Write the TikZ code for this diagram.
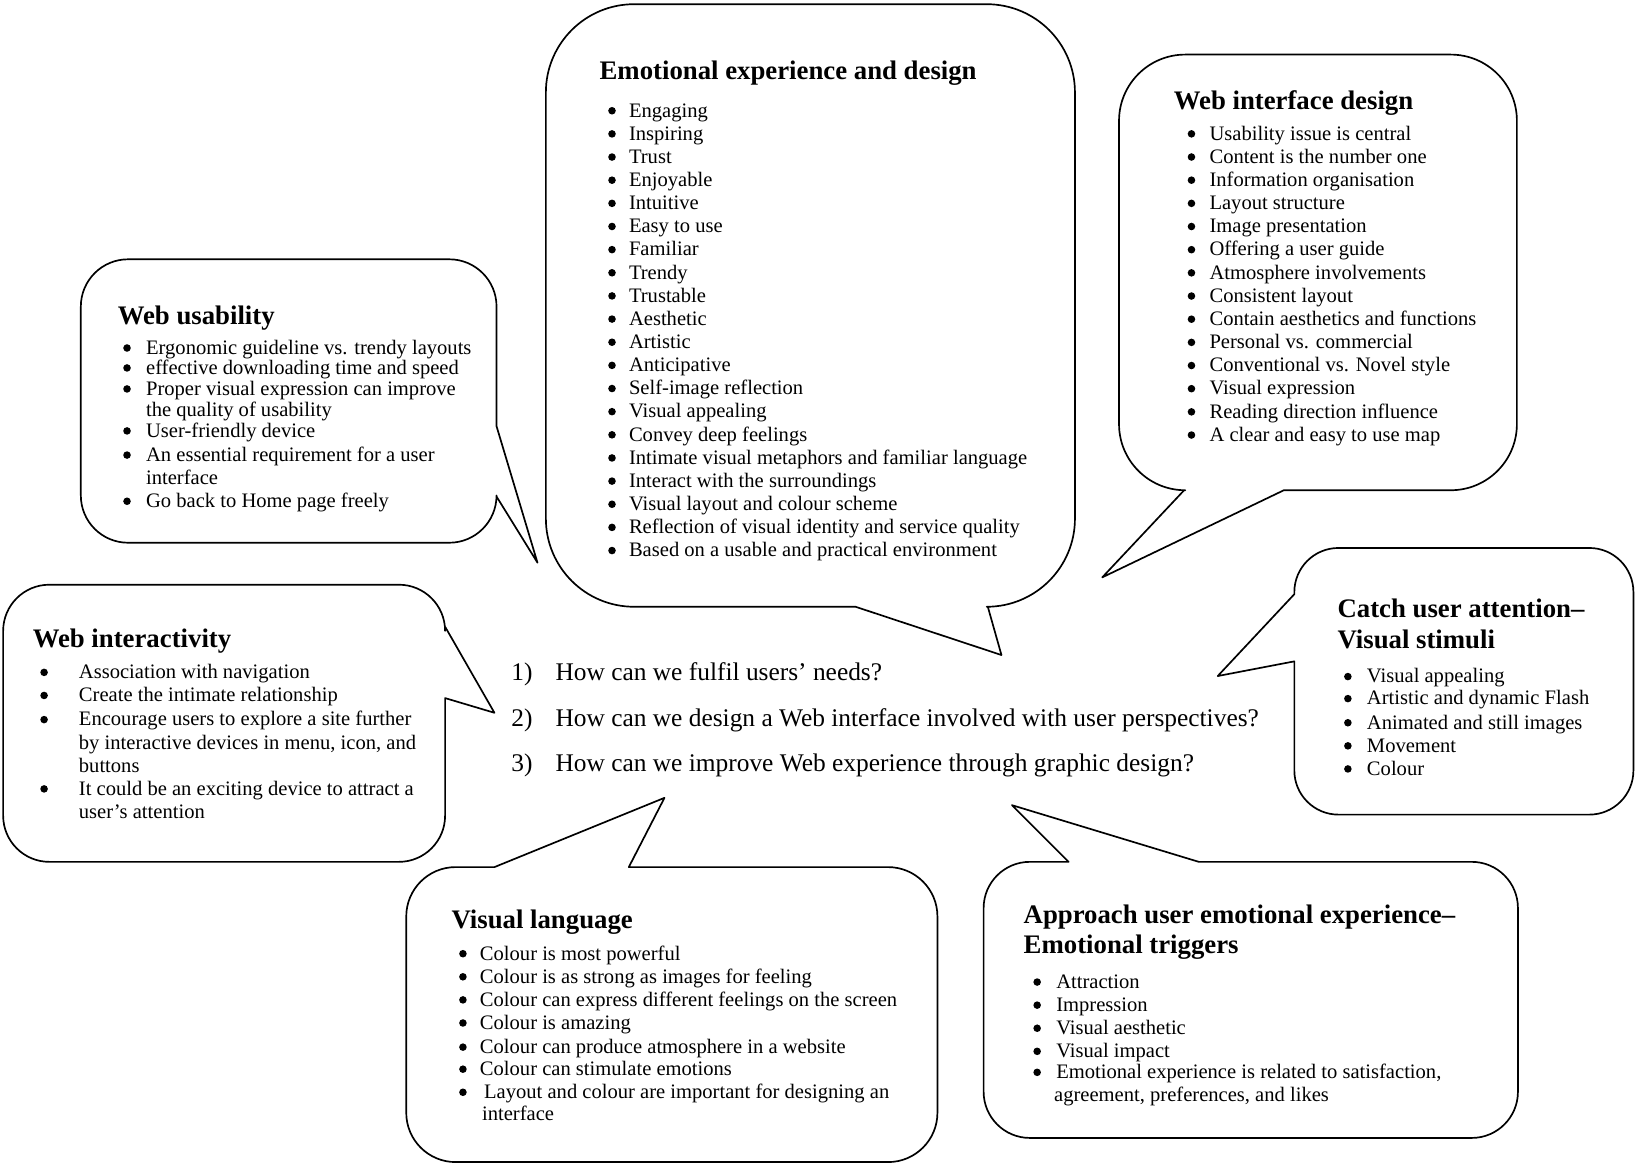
\documentclass[tikz,border=0pt]{standalone}
\usepackage{fontspec}
\setmainfont{Liberation Serif}
\usetikzlibrary{calc}

% Rounded callout: #1 left, #2 top, #3 right, #4 bottom, #5 corner radius,
% #6..#9 wedge segments on the top, right, bottom and left edge (clockwise).
\newcommand\callout[9]{%
  \draw[bubble] ({#1+#5},#2) #6 -- ({#3-#5},#2)
    .. controls ({#3-0.448*#5},#2) and (#3,{#2+0.448*#5}) .. (#3,{#2+#5}) #7 -- (#3,{#4-#5})
    .. controls (#3,{#4-0.448*#5}) and ({#3-0.448*#5},#4) .. ({#3-#5},#4) #8 -- ({#1+#5},#4)
    .. controls ({#1+0.448*#5},#4) and (#1,{#4-0.448*#5}) .. (#1,{#4-#5}) #9 -- (#1,{#2+#5})
    .. controls (#1,{#2+0.448*#5}) and ({#1+0.448*#5},#2) .. ({#1+#5},#2) -- cycle;}

% bulleted line: name, bullet x, text x, baseline y, text
\newcommand\blineitem[5]{%
  \node[dot] (#1-dot) at (#2,#4-6) {};
  \node[itm] (#1) at (#3,#4) {#5};}
% continuation line: name, text x, baseline y, text
\newcommand\clineitem[4]{\node[itm] (#1) at (#2,#3) {#4};}

\tikzset{
  bubble/.style={draw=black, line width=1.6pt, line join=round},
  ttl/.style={font=\bfseries\fontsize{25.5}{29}\selectfont, anchor=base west, inner sep=0pt},
  itm/.style={font=\fontsize{19.6}{22}\selectfont, anchor=base west, inner sep=0pt},
  dot/.style={circle, fill=black, inner sep=0pt, minimum size=7.2pt},
  qst/.style={font=\fontsize{24.2}{28}\selectfont, anchor=base west, inner sep=0pt}
}

\begin{document}
\begin{tikzpicture}[x=1pt, y=-1pt]
\useasboundingbox[fill=white] (0,0) rectangle (1568,1114);

% ---------- callout outlines ----------
% Web usability
\callout{77}{247}{473}{517}{45}{}{-- (473,406) -- (512,536) -- (473,473)}{}{}
% Emotional experience and design
\callout{520}{4}{1024}{578}{84}{}{}{-- (941,578) -- (954,624) -- (815,578)}{}
% Web interface design
\callout{1066}{52}{1445}{467}{63}{}{}{-- (1223,467) -- (1050,550) -- (1128,467)}{}
% Web interactivity
\callout{3}{557}{424}{821}{44}{}{-- (424,597) -- (471,679) -- (424,665)}{}{}
% Catch user attention
\callout{1233}{522}{1556}{776}{42}{}{}{}{-- (1233,630) -- (1160,644) -- (1233,566)}
% Visual language
\callout{387}{826}{893}{1107}{47}{-- (471,826) -- (633,760) -- (599,826)}{}{}{}
% Approach user emotional experience
\callout{937}{821}{1446}{1084}{44}{-- (1018,821) -- (964,767) -- (1142,821)}{}{}{}

% ---------- Emotional experience and design ----------
\node[ttl] (emo-title) at (571,76) {Emotional experience and design};
\foreach \tx [count=\k from 0] in {Engaging, Inspiring, Trust, Enjoyable, Intuitive,
  Easy to use, Familiar, Trendy, Trustable, Aesthetic, Artistic, Anticipative,
  Self-image reflection, Visual appealing, Convey deep feelings,
  Intimate visual metaphors and familiar language, Interact with the surroundings,
  Visual layout and colour scheme, Reflection of visual identity and service quality,
  Based on a usable and practical environment}
  {\node[dot] (emo-b\k) at (583,105.5+22.05*\k) {};
   \node[itm] (emo-i\k) at (599,111.5+22.05*\k) {\tx};}

% ---------- Web interface design ----------
\node[ttl] (wid-title) at (1118,104.5) {Web interface design};
\foreach \tx [count=\k from 0] in {Usability issue is central, Content is the number one,
  Information organisation, Layout structure, Image presentation, Offering a user guide,
  Atmosphere involvements, Consistent layout, Contain aesthetics and functions,
  Personal vs. commercial, Conventional vs. Novel style, Visual expression,
  Reading direction influence, A clear and easy to use map}
  {\node[dot] (wid-b\k) at (1135,127.5+22.07*\k) {};
   \node[itm] (wid-i\k) at (1152,133.5+22.07*\k) {\tx};}

% ---------- Web usability ----------
\node[ttl] (wu-title) at (112,309.5) {Web usability};
\blineitem{wu1}{121}{139}{337.5}{Ergonomic guideline vs. trendy layouts}
\blineitem{wu2}{121}{139}{356.5}{effective downloading time and speed}
\blineitem{wu3}{121}{139}{376.5}{Proper visual expression can improve}
\clineitem{wu3b}{139}{396.5}{the quality of usability}
\blineitem{wu4}{121}{139}{416.5}{User-friendly device}
\blineitem{wu5}{121}{139}{439.5}{An essential requirement for a user}
\clineitem{wu5b}{139}{461.5}{interface}
\blineitem{wu6}{121}{139}{483.5}{Go back to Home page freely}

% ---------- Web interactivity ----------
\node[ttl] (wi-title) at (31,616.5) {Web interactivity};
\blineitem{wi1}{42}{75}{646.5}{Association with navigation}
\blineitem{wi2}{42}{75}{668.5}{Create the intimate relationship}
\blineitem{wi3}{42}{75}{691.5}{Encourage users to explore a site further}
\clineitem{wi3b}{75}{713.5}{by interactive devices in menu, icon, and}
\clineitem{wi3c}{75}{735.5}{buttons}
\blineitem{wi4}{42}{75}{757.5}{It could be an exciting device to attract a}
\clineitem{wi4b}{75}{779.5}{user’s attention}

% ---------- central questions ----------
\node[qst] (q1n) at (487,648) {1)};
\node[qst] (q1) at (529,648) {How can we fulfil users’ needs?};
\node[qst] (q2n) at (487,692) {2)};
\node[qst] (q2) at (529,692) {How can we design a Web interface involved with user perspectives?};
\node[qst] (q3n) at (487,735) {3)};
\node[qst] (q3) at (529,735) {How can we improve Web experience through graphic design?};

% ---------- Catch user attention ----------
\node[ttl] (ca-title1) at (1274,588.5) {Catch user attention–};
\node[ttl] (ca-title2) at (1274,617.5) {Visual stimuli};
\blineitem{ca1}{1284}{1302}{650.5}{Visual appealing}
\blineitem{ca2}{1284}{1302}{671.5}{Artistic and dynamic Flash}
\blineitem{ca3}{1284}{1302}{694.5}{Animated and still images}
\blineitem{ca4}{1284}{1302}{716.5}{Movement}
\blineitem{ca5}{1284}{1302}{738.5}{Colour}

% ---------- Visual language ----------
\node[ttl] (vl-title) at (430,884.5) {Visual language};
\blineitem{vl1}{441}{457}{914.5}{Colour is most powerful}
\blineitem{vl2}{441}{457}{936.5}{Colour is as strong as images for feeling}
\blineitem{vl3}{441}{457}{958.5}{Colour can express different feelings on the screen}
\blineitem{vl4}{441}{457}{980.5}{Colour is amazing}
\blineitem{vl5}{441}{457}{1003.5}{Colour can produce atmosphere in a website}
\blineitem{vl6}{441}{457}{1024.5}{Colour can stimulate emotions}
\blineitem{vl7}{441}{461}{1046.5}{Layout and colour are important for designing an}
\clineitem{vl7b}{459}{1067.5}{interface}

% ---------- Approach user emotional experience ----------
\node[ttl] (ap-title1) at (975,879.5) {Approach user emotional experience–};
\node[ttl] (ap-title2) at (975,908.5) {Emotional triggers};
\blineitem{ap1}{988}{1006}{941.5}{Attraction}
\blineitem{ap2}{988}{1006}{963.5}{Impression}
\blineitem{ap3}{988}{1006}{985.5}{Visual aesthetic}
\blineitem{ap4}{988}{1006}{1007.5}{Visual impact}
\blineitem{ap5}{988}{1006}{1027.5}{Emotional experience is related to satisfaction,}
\clineitem{ap5b}{1004}{1049.5}{agreement, preferences, and likes}
\end{tikzpicture}
\end{document}
